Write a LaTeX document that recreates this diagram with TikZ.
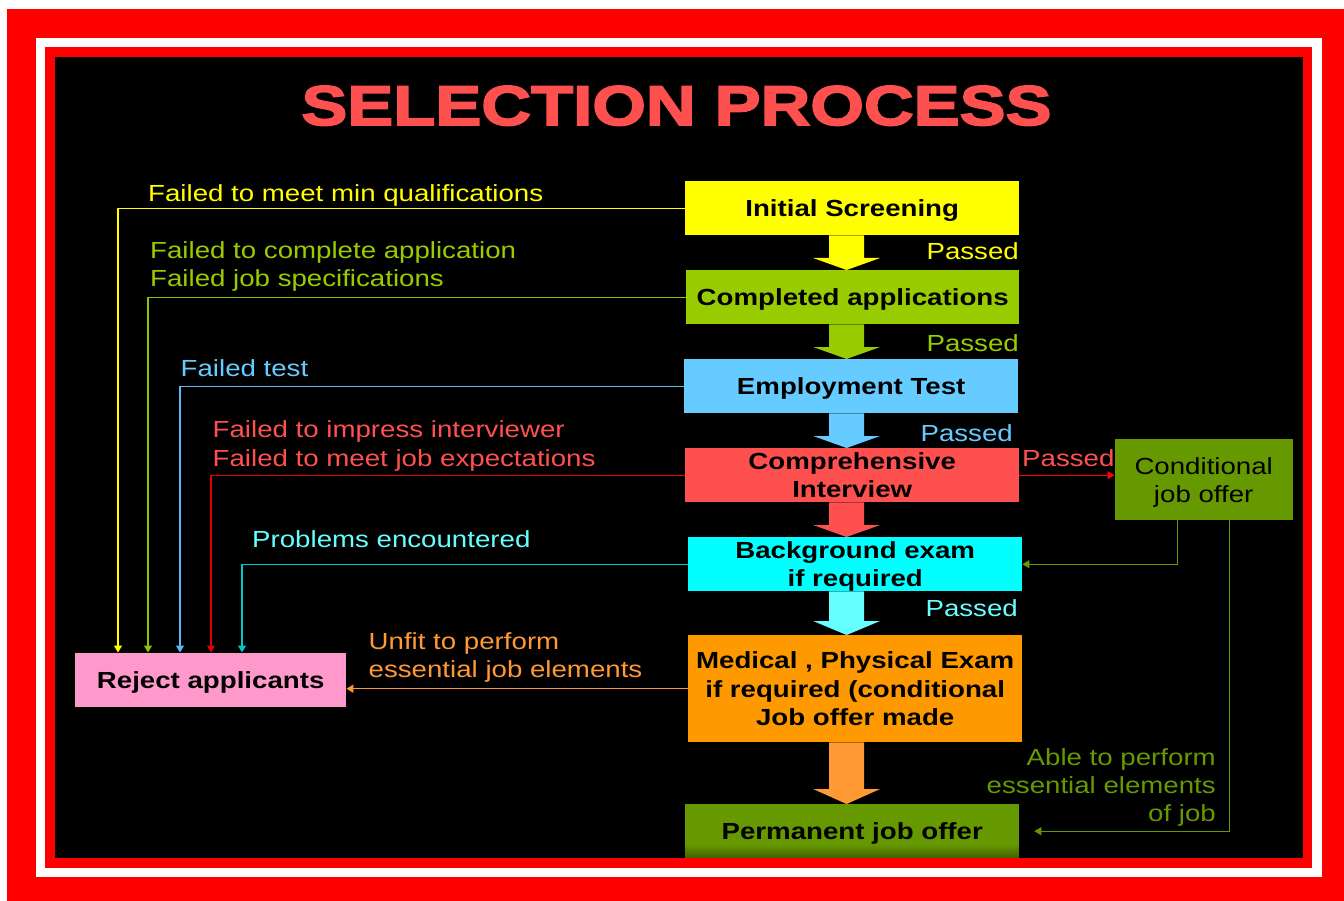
\documentclass[tikz,border=0pt]{standalone}
\usepackage{fontspec}
\setmainfont{Liberation Sans}[FakeStretch=1.187]
\newfontfamily\titlefont{Liberation Sans Bold}[FakeStretch=1.23,FakeBold=3]
\usetikzlibrary{arrows.meta,calc}
\definecolor{cyel}{HTML}{FFFF00}
\definecolor{cgrn}{HTML}{99CC00}
\definecolor{cblu}{HTML}{66CCFF}
\definecolor{cred}{HTML}{FF5050}
\definecolor{ccyn}{HTML}{00FFFF}
\definecolor{corg}{HTML}{FF9900}
\definecolor{cdgr}{HTML}{669900}
\definecolor{cdk}{HTML}{3F5F00}
\definecolor{cpnk}{HTML}{FF99CC}
\definecolor{ccyl}{HTML}{66FFFF}
\definecolor{corl}{HTML}{FF9933}
\definecolor{lred}{HTML}{E00000}
\definecolor{lcyn}{HTML}{00C8C8}
\definecolor{lblu}{HTML}{5BB8F0}
\definecolor{lgrn}{HTML}{8EC000}
\definecolor{frame}{HTML}{FF0000}
\newcommand\blockarr[4]{%
  \fill[#3] ($(ax |- #1.south)+(-17.5,0)$) -- ($(ax |- #2.north)+(-17.5,-#4)$)
    -- ($(ax |- #2.north)+(-33.5,-#4)$) -- (ax |- #2.north)
    -- ($(ax |- #2.north)+(33.5,-#4)$) -- ($(ax |- #2.north)+(17.5,-#4)$)
    -- ($(ax |- #1.south)+(17.5,0)$) -- cycle;}
\begin{document}
\begin{tikzpicture}[x=1pt,y=-1pt,
  lbl/.style={inner sep=0pt, font=\fontsize{23.3}{28.6}\selectfont},
  boxa/.style={inner sep=0pt, anchor=north west, align=center, text=black,
    font=\bfseries\fontsize{23.3}{28.6}\selectfont},
  one/.style={text height=17pt, text depth=0pt},
  fline/.style={line width=1.2pt, -{Triangle[width=8pt,length=7pt]}},
]
\useasboundingbox (0,0) rectangle (1344,901);
\fill[white] (0,0) rectangle (1344,901);
\fill[frame] (7,9) rectangle (1344,901);
\fill[white] (36,38) rectangle (1322,877);
\fill[frame] (45,47) rectangle (1312,868);
\fill[black] (55,57) rectangle (1303,858);

\node[inner sep=0pt, anchor=base, text=cred, font=\titlefont\fontsize{56}{60}\selectfont] (title) at (676.5,125) {SELECTION PROCESS};

\coordinate (ax) at (846.6,0);

\node[boxa,one,fill=cyel,minimum width=334pt,minimum height=54pt] (init) at (685,181) {Initial Screening};
\node[boxa,one,fill=cgrn,minimum width=333pt,minimum height=54pt] (comp) at (686,270) {Completed applications};
\node[boxa,one,fill=cblu,minimum width=334pt,minimum height=54pt] (emp) at (684,359) {Employment Test};
\node[boxa,fill=cred,minimum width=334pt,minimum height=54pt] (intv) at (685,448) {Comprehensive\\\smash{Interview}};
\node[boxa,fill=ccyn,minimum width=334pt,minimum height=54pt] (bg) at (688,537) {Background exam\\\smash{if required}};
\node[boxa,fill=corg,minimum width=334pt,minimum height=107pt,font=\bfseries\fontsize{23.3}{28.4}\selectfont] (med) at (688,635) {Medical , Physical Exam\\if required (conditional\\\smash{Job offer made}};
\node[boxa,one,fill=cdgr,minimum width=334pt,minimum height=54pt,
  path picture={\foreach \i in {0,...,13}{\pgfmathsetmacro\pc{\i*7}
     \fill[cdk!\pc!cdgr] ($(path picture bounding box.south west)+(0,-14+\i)$) rectangle ($(path picture bounding box.south east)+(0,-13+\i)$);}}] (perm) at (685,804) {Permanent job offer};
\node[boxa,fill=cdgr,minimum width=178pt,minimum height=81pt,font=\fontsize{23.3}{28}\selectfont] (cond) at (1114.5,439) {Conditional\\\smash{job offer}};
\node[boxa,one,fill=cpnk,minimum width=271pt,minimum height=54pt] (rej) at (75,652.5) {Reject applicants};

\blockarr{init}{comp}{cyel}{12}
\blockarr{comp}{emp}{cgrn}{12}
\blockarr{emp}{intv}{cblu}{12}
\blockarr{intv}{bg}{cred}{12}
\blockarr{bg}{med}{ccyl}{14}
\blockarr{med}{perm}{corl}{15}

\draw[fline,cyel] (init.west) -| ($(rej.north west)+(43,0)$);
\draw[fline,lgrn] (comp.west) -| ($(rej.north west)+(73,0)$);
\draw[fline,lblu] (emp.west) -| ($(rej.north west)+(105,0)$);
\draw[fline,lred] (intv.west) -| ($(rej.north west)+(136,0)$);
\draw[fline,lcyn] (bg.west) -| ($(rej.north west)+(167,0)$);
\draw[fline,corl] (med.west) -- (med.west -| rej.east);
\draw[fline,frame] (intv.east) -- (intv.east -| cond.west);
\draw[fline,cdgr] ($(cond.south west)+(62.8,0)$) |- (bg.east);
\coordinate (permin) at ($(perm.east)+(15,0)$);
\draw[fline,cdgr] ($(cond.south west)+(115,0)$) |- (permin);

\node[lbl,text=cyel,anchor=base west] (l1) at (148,202) {Failed to meet min qualifications};
\node[lbl,text=cgrn,anchor=north west,align=left] (l2) at (150,241) {Failed to complete application\\Failed job specifications};
\node[lbl,text=cblu,anchor=base west] (l3) at (180.5,376) {Failed test};
\node[lbl,text=cred,anchor=north west,align=left] (l4) at (212.5,420.7) {Failed to impress interviewer\\Failed to meet job expectations};
\node[lbl,text=ccyl,anchor=base west] (l5) at (252,547.7) {Problems encountered};
\node[lbl,text=corl,anchor=north west,align=left] (l6) at (368.5,632) {Unfit to perform\\essential job elements};
\node[lbl,text=cdgr,anchor=north east,align=right,font=\fontsize{23.3}{28}\selectfont] (l7) at (1216,748) {Able to perform\\essential elements\\of job};

\node[lbl,text=cyel,anchor=base east] (p1) at (1019,260) {Passed};
\node[lbl,text=cgrn,anchor=base east] (p2) at (1019,351) {Passed};
\node[lbl,text=cblu,anchor=base east] (p3) at (1013,441.7) {Passed};
\node[lbl,text=ccyl,anchor=base east] (p4) at (1018,616.7) {Passed};
\node[lbl,text=cred,anchor=base west] (p5) at (1022,466) {Passed};
\end{tikzpicture}
\end{document}
